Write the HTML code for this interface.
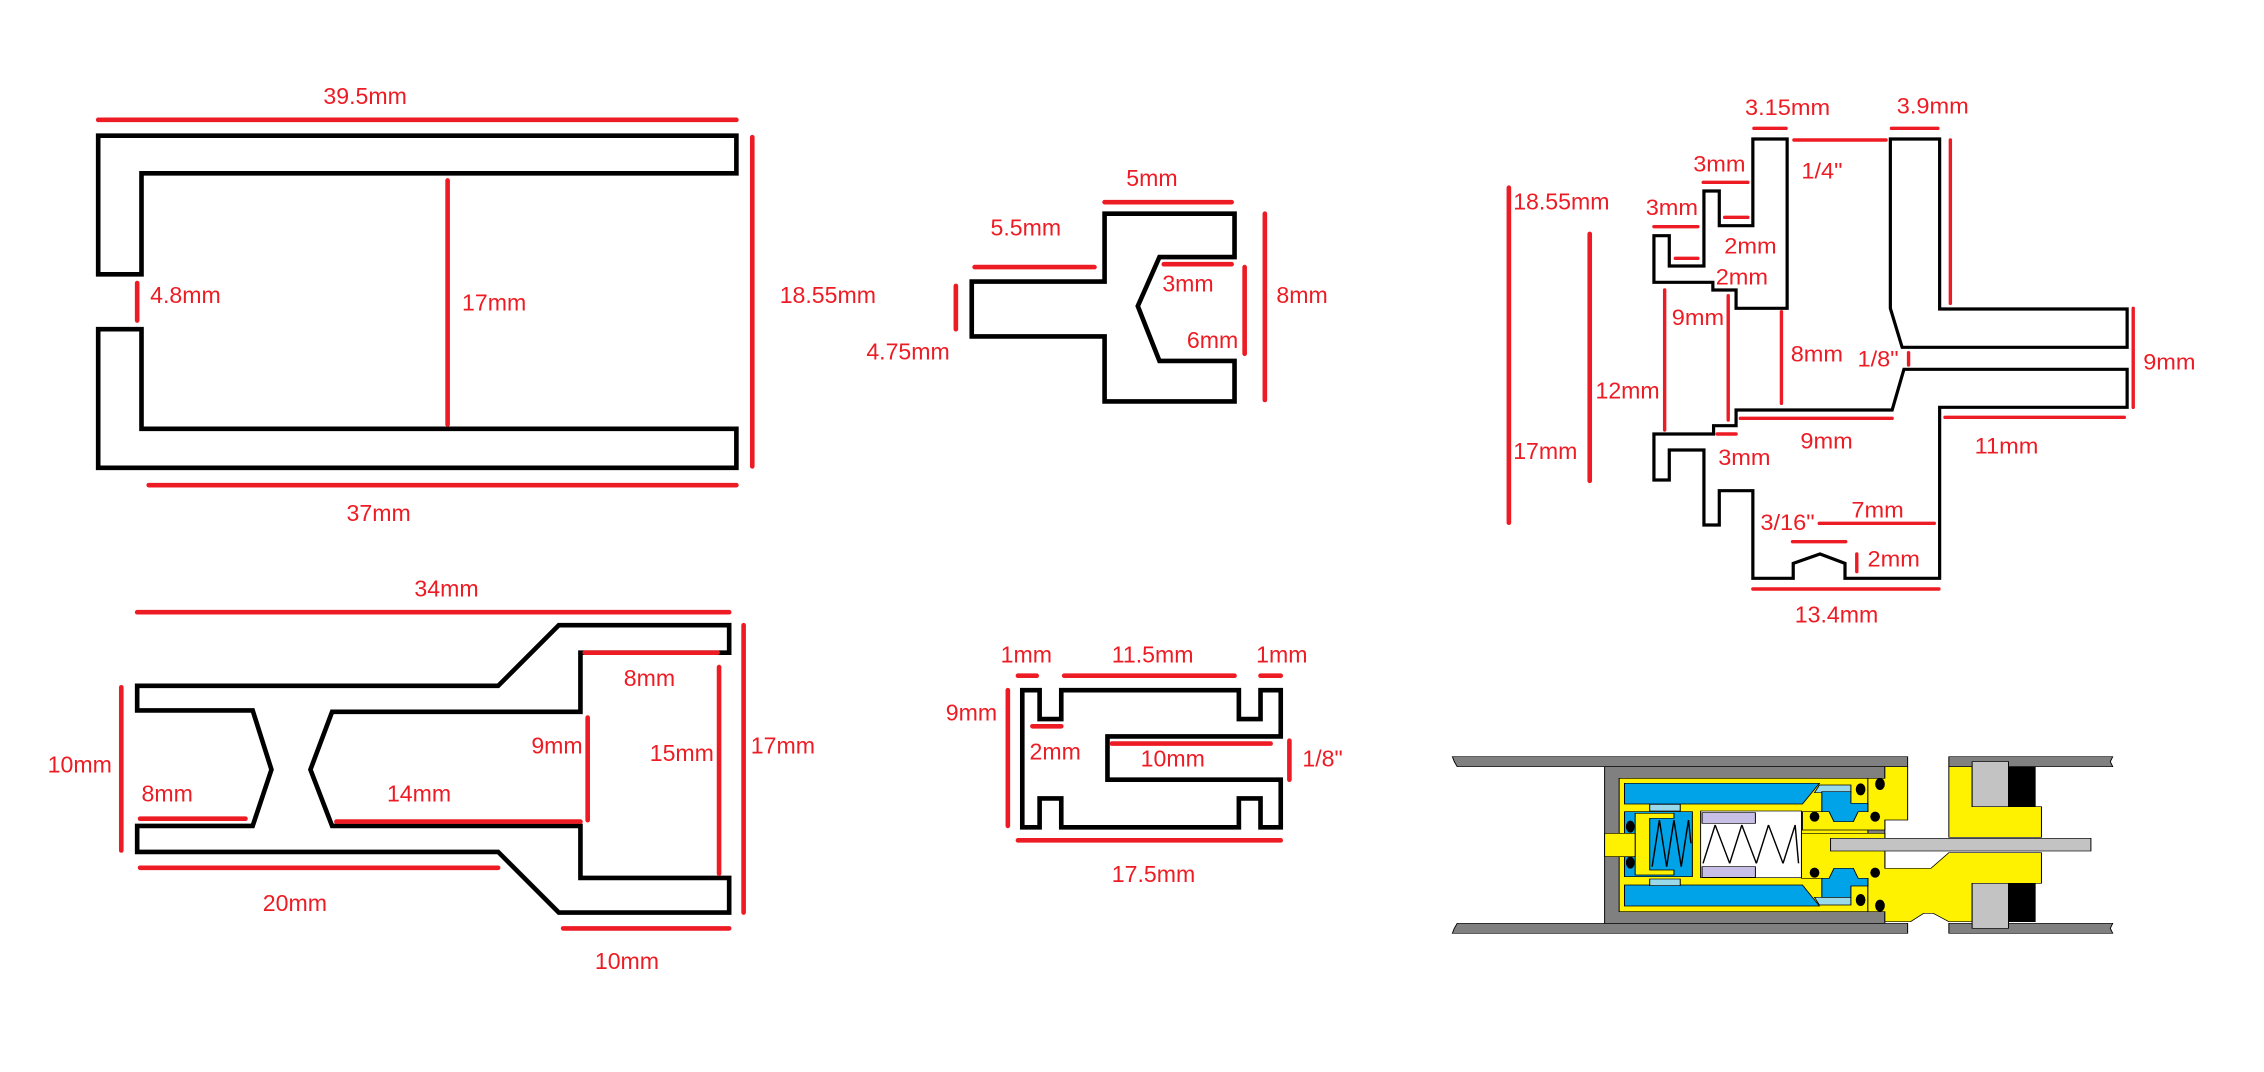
<!DOCTYPE html>
<html><head><meta charset="utf-8"><style>
html,body{margin:0;padding:0;background:#fff;}
svg{display:block;}
text{font-family:"Liberation Sans",sans-serif;fill:#ed1c24;}
</style></head><body>
<svg width="2264" height="1072" viewBox="0 0 2264 1072" xmlns="http://www.w3.org/2000/svg">
<rect width="2264" height="1072" fill="#fff"/>
<g transform="scale(1.4439)" stroke-linejoin="miter">
 <g fill="none" stroke="#000" stroke-width="3.2">
  <path d="M68,94 H510 V120 H98 V190 H68 Z"/>
  <path d="M68,228 H98 V297 H510 V324 H68 Z"/>
  <path d="M765,148 H855 V178 H803 L788,212 L803,250 H855 V278 H765 V233 H673 V195 H765 Z"/>
  <path d="M95,475 H345 L387,433 H505 V452 H402 V493 H230 L215,533 L230,572 H402 V608 H505 V632 H387 L345,590 H95 V572 H175 L188,533 L175,492 H95 Z"/>
  <path d="M708,478 H720 V498 H735 V478 H858 V498 H873 V478 H887 V510 H767 V540 H887 V573 H873 V553 H858 V573 H735 V553 H720 V573 H708 Z"/>
 </g>
 <g stroke="#ed1c24" stroke-width="3.2" stroke-linecap="round">
  <line x1="68" y1="83" x2="510" y2="83"/>
  <line x1="521" y1="95" x2="521" y2="323"/>
  <line x1="310" y1="125" x2="310" y2="294"/>
  <line x1="95" y1="196" x2="95" y2="222"/>
  <line x1="103" y1="336" x2="510" y2="336"/>
  <line x1="765" y1="140" x2="853" y2="140"/>
  <line x1="675" y1="185" x2="758" y2="185"/>
  <line x1="662" y1="198" x2="662" y2="228"/>
  <line x1="806" y1="183" x2="853" y2="183"/>
  <line x1="876" y1="148" x2="876" y2="277"/>
  <line x1="862" y1="185" x2="862" y2="245"/>
  <line x1="95" y1="424" x2="505" y2="424"/>
  <line x1="515" y1="433" x2="515" y2="632"/>
  <line x1="498" y1="462" x2="498" y2="605"/>
  <line x1="405" y1="452" x2="497" y2="452"/>
  <line x1="407" y1="497" x2="407" y2="568"/>
  <line x1="84" y1="476" x2="84" y2="589"/>
  <line x1="97" y1="567" x2="170" y2="567"/>
  <line x1="233" y1="569" x2="402" y2="569"/>
  <line x1="97" y1="601" x2="345" y2="601"/>
  <line x1="390" y1="643" x2="505" y2="643"/>
  <line x1="705" y1="468" x2="718" y2="468"/>
  <line x1="737" y1="468" x2="855" y2="468"/>
  <line x1="873" y1="468" x2="887" y2="468"/>
  <line x1="698" y1="478" x2="698" y2="572"/>
  <line x1="715" y1="503" x2="735" y2="503"/>
  <line x1="770" y1="515" x2="880" y2="515"/>
  <line x1="893" y1="513" x2="893" y2="540"/>
  <line x1="705" y1="582" x2="887" y2="582"/>
  <line x1="1045" y1="130" x2="1045" y2="362"/>
  <line x1="1101" y1="162" x2="1101" y2="333"/>
 </g>
 <g font-size="16">
  <text x="224" y="72">39.5mm</text>
  <text x="540" y="210">18.55mm</text>
  <text x="320" y="215">17mm</text>
  <text x="104" y="210">4.8mm</text>
  <text x="240" y="361">37mm</text>
  <text x="780" y="129">5mm</text>
  <text x="686" y="163">5.5mm</text>
  <text x="600" y="249">4.75mm</text>
  <text x="805" y="202">3mm</text>
  <text x="884" y="210">8mm</text>
  <text x="822" y="241">6mm</text>
  <text x="287" y="413">34mm</text>
  <text x="520" y="522">17mm</text>
  <text x="450" y="527">15mm</text>
  <text x="432" y="475">8mm</text>
  <text x="368" y="522">9mm</text>
  <text x="33" y="535">10mm</text>
  <text x="98" y="555">8mm</text>
  <text x="268" y="555">14mm</text>
  <text x="182" y="631">20mm</text>
  <text x="412" y="671">10mm</text>
  <text x="693" y="459">1mm</text>
  <text x="770" y="459">11.5mm</text>
  <text x="870" y="459">1mm</text>
  <text x="655" y="499">9mm</text>
  <text x="713" y="526">2mm</text>
  <text x="790" y="531">10mm</text>
  <text x="902" y="531">1/8"</text>
  <text x="770" y="611">17.5mm</text>
  <text x="1048" y="145">18.55mm</text>
  <text x="1105" y="276">12mm</text>
  <text x="1048" y="318">17mm</text>
  <text x="1243" y="431">13.4mm</text>
 </g>
</g>

<g transform="translate(1620,90) scale(0.35714,0.33333)">
 <g fill="none" stroke="#000" stroke-width="3.2">
  <path vector-effect="non-scaling-stroke" d="M372,147 H468 V655 H325 V600 H260 V577 H95 V437 H138 V528 H235 V303 H278 V407 H372 Z"/>
  <path vector-effect="non-scaling-stroke" d="M757,147 H895 V657 H1420 V772 H790 L757,655 Z"/>
  <path vector-effect="non-scaling-stroke" d="M795,838 H1420 V952 H895 V1465 H630 V1420 L560,1392 L485,1420 V1465 H372 V1202 H278 V1305 H235 V1080 H138 V1170 H95 V1032 H262 V1007 H325 V960 H762 Z"/>
 </g>
 <g stroke="#ed1c24" stroke-width="3.4" stroke-linecap="round" fill="none">
  <line vector-effect="non-scaling-stroke" x1="375" y1="115" x2="465" y2="115"/>
  <line vector-effect="non-scaling-stroke" x1="760" y1="115" x2="890" y2="115"/>
  <line vector-effect="non-scaling-stroke" x1="487" y1="150" x2="745" y2="150"/>
  <line vector-effect="non-scaling-stroke" x1="925" y1="150" x2="925" y2="640"/>
  <line vector-effect="non-scaling-stroke" x1="233" y1="277" x2="358" y2="277"/>
  <line vector-effect="non-scaling-stroke" x1="293" y1="382" x2="358" y2="382"/>
  <line vector-effect="non-scaling-stroke" x1="95" y1="410" x2="218" y2="410"/>
  <line vector-effect="non-scaling-stroke" x1="155" y1="505" x2="218" y2="505"/>
  <line vector-effect="non-scaling-stroke" x1="125" y1="600" x2="125" y2="1020"/>
  <line vector-effect="non-scaling-stroke" x1="303" y1="617" x2="303" y2="990"/>
  <line vector-effect="non-scaling-stroke" x1="452" y1="665" x2="452" y2="940"/>
  <line vector-effect="non-scaling-stroke" x1="808" y1="788" x2="808" y2="825"/>
  <line vector-effect="non-scaling-stroke" x1="1437" y1="655" x2="1437" y2="952"/>
  <line vector-effect="non-scaling-stroke" x1="337" y1="985" x2="762" y2="985"/>
  <line vector-effect="non-scaling-stroke" x1="910" y1="982" x2="1412" y2="982"/>
  <line vector-effect="non-scaling-stroke" x1="272" y1="1032" x2="325" y2="1032"/>
  <line vector-effect="non-scaling-stroke" x1="558" y1="1300" x2="880" y2="1300"/>
  <line vector-effect="non-scaling-stroke" x1="483" y1="1355" x2="632" y2="1355"/>
  <line vector-effect="non-scaling-stroke" x1="663" y1="1392" x2="663" y2="1445"/>
  <line vector-effect="non-scaling-stroke" x1="372" y1="1497" x2="893" y2="1497"/>
 </g>
 <g font-size="66">
  <text x="350" y="75">3.15mm</text>
  <text x="775" y="70">3.9mm</text>
  <text x="508" y="265">1/4"</text>
  <text x="205" y="245">3mm</text>
  <text x="72" y="375">3mm</text>
  <text x="292" y="490">2mm</text>
  <text x="268" y="583">2mm</text>
  <text x="145" y="705">9mm</text>
  <text x="478" y="815">8mm</text>
  <text x="665" y="830">1/8"</text>
  <text x="1465" y="838">9mm</text>
  <text x="505" y="1075">9mm</text>
  <text x="993" y="1090">11mm</text>
  <text x="275" y="1125">3mm</text>
  <text x="648" y="1282">7mm</text>
  <text x="393" y="1320">3/16"</text>
  <text x="693" y="1430">2mm</text>
 </g>
</g>

<g transform="translate(1400,700) scale(0.48485,0.33333)" stroke="#000" stroke-width="2">
 <polygon points="108,170 1047,170 1047,200 118,200 112,185" fill="#808080"/>
 <polygon points="118,670 1047,670 1047,700 108,700 112,685" fill="#808080"/>
 <polygon points="1132,170 1470,170 1465,185 1470,200 1132,200" fill="#808080"/>
 <polygon points="1132,670 1470,670 1465,685 1470,700 1132,700" fill="#808080"/>
 <rect x="422" y="200" width="578" height="470" fill="#808080"/>
 <rect x="452" y="235" width="513" height="400" fill="#fff200"/>
 <polygon points="1000,200 1047,200 1047,360 1000,360 1000,390 830,390 830,335 965,335 965,235 1000,235" fill="#fff200"/>
 <polygon points="463,250 865,250 830,312 463,312" fill="#00a2e8"/>
 <polygon points="463,555 830,555 865,618 463,618" fill="#00a2e8"/>
 <polygon points="865,255 930,255 930,278 855,278" fill="#99d9ea"/>
 <polygon points="855,592 930,592 930,615 865,615" fill="#99d9ea"/>
 <rect x="515" y="313" width="63" height="20" fill="#99d9ea"/>
 <rect x="515" y="537" width="63" height="20" fill="#99d9ea"/>
 <rect x="463" y="335" width="140" height="195" fill="#00a2e8"/>
 <path d="M565,340 H485 V525 H565 V510 H515 V355 H565 Z" fill="#fff200"/>
 <polyline points="520,500 535,360 550,500 565,360 580,500 595,360 600,430" fill="none" stroke-width="3"/>
 <rect x="620" y="333" width="208" height="200" fill="#fff"/>
 <rect x="623" y="338" width="110" height="32" fill="#c8bfe7"/>
 <rect x="623" y="500" width="110" height="32" fill="#c8bfe7"/>
 <polyline points="625,490 650,375 680,490 705,375 735,490 760,375 790,490 815,375 822,490" fill="none" stroke-width="3"/>
 <polygon points="828,400 1000,400 1000,505 1095,505 1132,458 1323,458 1323,550 1180,550 1180,665 1132,665 1100,640 1080,640 1053,665 1000,665 1000,635 965,635 965,535 828,535" fill="#fff200"/>
 <polygon points="1132,200 1180,200 1180,320 1323,320 1323,412 1132,412" fill="#fff200"/>
 <polygon points="870,275 930,275 930,310 965,310 965,335 945,335 935,365 895,365 885,335 870,335" fill="#00a2e8"/>
 <polygon points="870,592 930,592 930,558 965,558 965,535 945,535 935,505 895,505 885,535 870,535" fill="#00a2e8"/>
 <rect x="888" y="415" width="537" height="38" fill="#c3c3c3"/>
 <rect x="422" y="400" width="63" height="70" fill="#fff200"/>
 <polygon points="1180,185 1255,185 1255,320 1180,320" fill="#c3c3c3"/>
 <polygon points="1255,200 1310,200 1310,320 1255,320" fill="#000"/>
 <polygon points="1180,550 1255,550 1255,685 1180,685" fill="#c3c3c3"/>
 <polygon points="1255,550 1310,550 1310,665 1255,665" fill="#000"/>
 <g fill="#000" stroke="none">
  <ellipse cx="475" cy="380" rx="9" ry="18"/><ellipse cx="475" cy="488" rx="9" ry="18"/>
  <ellipse cx="855" cy="350" rx="10" ry="15"/><ellipse cx="980" cy="350" rx="10" ry="15"/>
  <ellipse cx="855" cy="518" rx="10" ry="15"/><ellipse cx="980" cy="518" rx="10" ry="15"/>
  <ellipse cx="950" cy="268" rx="10" ry="18"/><ellipse cx="990" cy="252" rx="10" ry="18"/>
  <ellipse cx="950" cy="600" rx="10" ry="18"/><ellipse cx="990" cy="617" rx="10" ry="18"/>
 </g>
</g>
</svg>
</body></html>
